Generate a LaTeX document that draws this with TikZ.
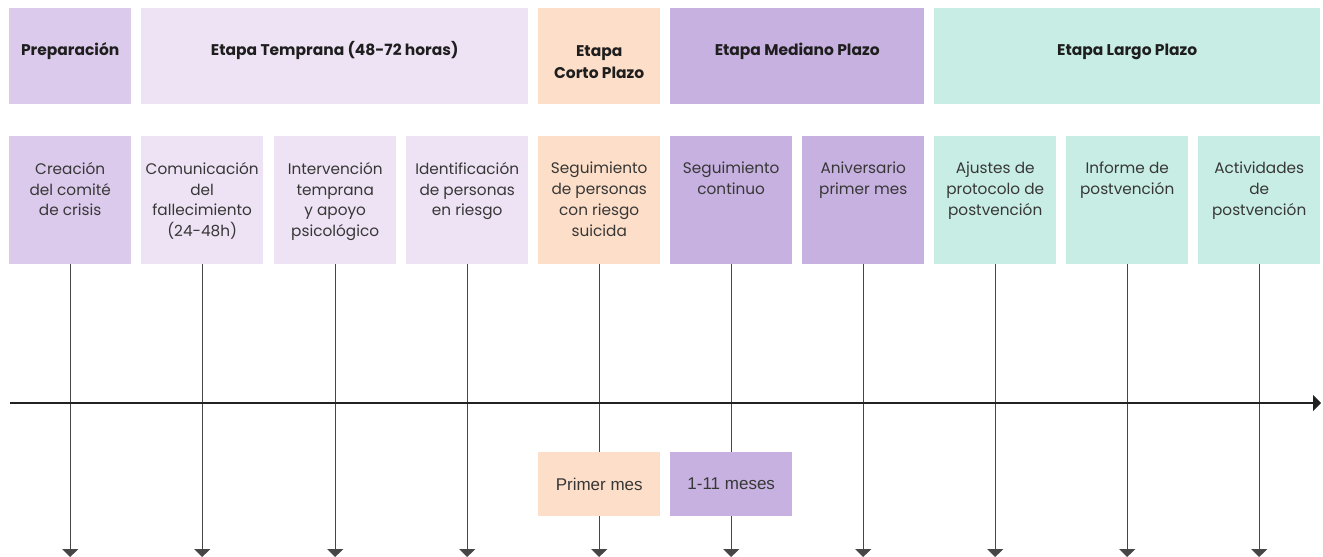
\documentclass[tikz,border=0pt]{standalone}
\usepackage{fontspec}
\setmainfont{Poppins}
\newfontfamily\arialf{Liberation Sans}
\usetikzlibrary{arrows.meta}
\definecolor{cprep}{RGB}{220,202,236}
\definecolor{ctemp}{RGB}{238,227,244}
\definecolor{ccorto}{RGB}{253,222,200}
\definecolor{cmed}{RGB}{199,177,224}
\definecolor{clargo}{RGB}{200,237,228}
\definecolor{txtc}{RGB}{55,55,55}
\definecolor{headc}{RGB}{30,30,30}
\definecolor{linec}{RGB}{70,70,70}
\definecolor{axisc}{RGB}{34,34,34}
\tikzset{
  hbox/.style={draw=none, inner sep=0, minimum height=96pt, anchor=north west},
  lbox/.style={draw=none, inner sep=0, minimum width=122pt, minimum height=128pt, anchor=north west},
  sbox/.style={draw=none, inner sep=0, minimum width=122pt, minimum height=64pt, font=\arialf\fontsize{17}{20}\selectfont, text=txtc},
  bodyt/.style={font=\fontsize{15.3}{20.8}\selectfont, align=center, text=txtc, inner sep=0, anchor=north, execute at begin node=\strut},
  headt/.style={font=\bfseries\fontsize{15.5}{22}\selectfont, align=center, text=headc, inner sep=0, anchor=north, execute at begin node=\strut},
  vline/.style={draw=linec, line width=1.1pt, -{Triangle[width=16pt,length=8pt]}},
  axisl/.style={draw=axisc, line width=2.4pt, -{Triangle[width=16pt,length=8pt]}},
}
\begin{document}
\begin{tikzpicture}[x=1pt,y=-1pt]
\useasboundingbox (0,0) rectangle (1323,557);
% header boxes
\node[hbox, fill=cprep, minimum width=122pt] (h1) at (9,8) {};
\node[hbox, fill=ctemp, minimum width=387pt] (h2) at (141,8) {};
\node[hbox, fill=ccorto, minimum width=122pt] (h3) at (538,8) {};
\node[hbox, fill=cmed, minimum width=254pt] (h4) at (670,8) {};
\node[hbox, fill=clargo, minimum width=386pt] (h5) at (934,8) {};
\node[headt] (ht1) at ([yshift=-32pt]h1.north) {Preparación};
\node[headt] (ht2) at ([yshift=-32pt]h2.north) {Etapa Temprana (48-72 horas)};
\node[headt] (ht3) at ([yshift=-37pt]h3.north) {Etapa\\Corto Plazo};
\node[headt] (ht4) at ([yshift=-32pt]h4.north) {Etapa Mediano Plazo};
\node[headt] (ht5) at ([yshift=-32pt]h5.north) {Etapa Largo Plazo};
% lower boxes
\node[lbox, fill=cprep] (b1) at (9,136) {};
\node[lbox, fill=ctemp] (b2) at (141,136) {};
\node[lbox, fill=ctemp] (b3) at (274,136) {};
\node[lbox, fill=ctemp] (b4) at (406,136) {};
\node[lbox, fill=ccorto] (b5) at (538,136) {};
\node[lbox, fill=cmed] (b6) at (670,136) {};
\node[lbox, fill=cmed] (b7) at (802,136) {};
\node[lbox, fill=clargo] (b8) at (934,136) {};
\node[lbox, fill=clargo] (b9) at (1066,136) {};
\node[lbox, fill=clargo] (b10) at (1198,136) {};
\node[bodyt] (t1) at ([yshift=-26pt]b1.north) {Creación\\del comité\\de crisis};
\node[bodyt] (t2) at ([yshift=-26pt]b2.north) {Comunicación\\del\\fallecimiento\\(24-48h)};
\node[bodyt] (t3) at ([yshift=-26pt]b3.north) {Intervención\\temprana\\y apoyo\\psicológico};
\node[bodyt] (t4) at ([yshift=-26pt]b4.north) {Identificación\\de personas\\en riesgo};
\node[bodyt] (t5) at ([yshift=-26pt]b5.north) {Seguimiento\\de personas\\con riesgo\\suicida};
\node[bodyt] (t6) at ([yshift=-26pt]b6.north) {Seguimiento\\continuo};
\node[bodyt] (t7) at ([yshift=-26pt]b7.north) {Aniversario\\primer mes};
\node[bodyt] (t8) at ([yshift=-26pt]b8.north) {Ajustes de\\protocolo de\\postvención};
\node[bodyt] (t9) at ([yshift=-26pt]b9.north) {Informe de\\postvención};
\node[bodyt] (t10) at ([yshift=-26pt]b10.north) {Actividades\\de\\postvención};
% bottom ends
\coordinate (bot) at (0,557);
\foreach \i in {1,...,10} {
  \coordinate (e\i) at (b\i.south |- bot);
  \draw[vline] (b\i.south) -- (e\i);
}
% axis
\coordinate (axs) at (10,403);
\coordinate (axe) at (1321,403);
\draw[axisl] (axs) -- (axe);
% small boxes
\node[sbox, fill=ccorto] (s1) at (b5.south |- 0,484) {Primer mes};
\node[sbox, fill=cmed] (s2) at (b6.south |- 0,484) {1-11 meses};
\end{tikzpicture}
\end{document}
